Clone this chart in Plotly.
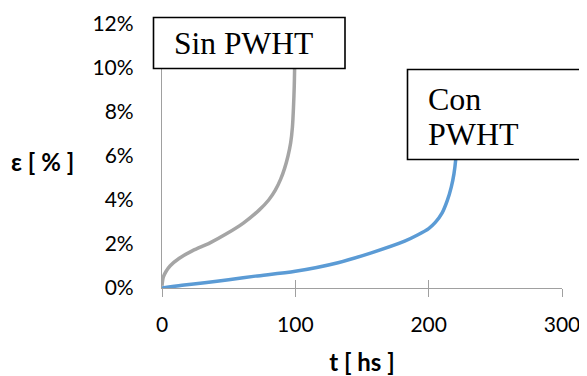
import plotly.graph_objects as go

# Data
sin_t = [0, 1, 3, 6, 13, 23, 36, 48, 61, 73, 80, 85, 89, 92, 94.5, 96.5, 97.8, 98.6, 99.2, 99.6]
sin_e = [0.1, 0.5, 0.75, 1.0, 1.35, 1.7, 2.05, 2.45, 2.95, 3.55, 4.0, 4.45, 4.95, 5.45, 6.0, 6.6, 7.3, 8.2, 9.2, 10.5]

con_t = [0, 15, 32, 50, 70, 100, 132, 157, 182, 192, 200, 205, 210, 214, 217, 219, 220.3, 221]
con_e = [0.0, 0.12, 0.24, 0.38, 0.54, 0.76, 1.15, 1.6, 2.13, 2.42, 2.7, 2.98, 3.4, 3.98, 4.6, 5.2, 5.85, 6.5]

x_ticks = [0, 100, 200, 300]
y_ticks = [0, 2, 4, 6, 8, 10, 12]
y_labels = ["0%", "2%", "4%", "6%", "8%", "10%", "12%"]

AX = "#A0A0A0"
SANS = "Lato, Open Sans, sans-serif"
TICKFONT = dict(family=SANS, size=21, color="#000000")

OFF = 8  # page body margin
L, T, W, H = 162.0 - OFF, 24.0 - OFF, 400.0, 264.0

fig = go.Figure()
fig.add_trace(go.Scatter(x=sin_t, y=sin_e, mode="lines", name="Sin PWHT",
                         line=dict(color="#A5A5A5", width=3.5, shape="spline", smoothing=0.8)))
fig.add_trace(go.Scatter(x=con_t, y=con_e, mode="lines", name="Con PWHT",
                         line=dict(color="#5B9BD5", width=3.5, shape="spline", smoothing=0.8)))
# invisible trace for secondary x axis (upper half of the cross tick marks)
fig.add_trace(go.Scatter(x=[0], y=[0], xaxis="x2", mode="markers",
                         marker=dict(opacity=0), showlegend=False, hoverinfo="skip"))

fig.update_layout(
    width=587 - OFF, height=376 - OFF,
    margin=dict(l=L, r=587 - OFF - L - W, t=T, b=376 - OFF - T - H, autoexpand=False),
    paper_bgcolor="white", plot_bgcolor="white",
    showlegend=False,
    xaxis=dict(range=[0, 300], tickvals=x_ticks, ticktext=[str(v) for v in x_ticks],
               showgrid=False, zeroline=False, showline=True, linecolor=AX, linewidth=1.3,
               ticks="outside", ticklen=8, tickcolor=AX, tickwidth=1.3,
               tickfont=TICKFONT, ticklabelstandoff=10,
               title=dict(text="<b>t [ hs ]</b>", font=dict(family=SANS, size=24, color="#000"),
                          standoff=27)),
    xaxis2=dict(range=[0, 300], overlaying="x", anchor="y", side="bottom", tickvals=x_ticks,
                showticklabels=False, showgrid=False, zeroline=False, showline=False,
                ticks="inside", ticklen=8, tickcolor=AX, tickwidth=1.3),
    yaxis=dict(range=[0, 12], tickvals=y_ticks, ticktext=y_labels,
               showgrid=False, zeroline=False, showline=True, linecolor=AX, linewidth=1.3,
               ticks="", tickfont=TICKFONT, ticklabelstandoff=23),
)

def px(x):  # reference pixel x -> paper
    return (x - OFF - L) / W
def py(y):  # reference pixel y -> paper
    return (T + H - (y - OFF)) / H

fig.add_shape(type="rect", xref="paper", yref="paper",
              x0=px(153.5), x1=px(345), y0=py(68.5), y1=py(17.5),
              line=dict(color="black", width=1.6), fillcolor="white", layer="above")
fig.add_shape(type="rect", xref="paper", yref="paper",
              x0=px(407.5), x1=px(586.2), y0=py(159.5), y1=py(69.5),
              line=dict(color="black", width=1.6), fillcolor="white", layer="above")

SERIF = "Liberation Serif, Times New Roman, serif"
fig.add_annotation(xref="paper", yref="paper", x=px(172), y=py(43), xanchor="left", yanchor="middle",
                   text="Sin PWHT", showarrow=False, font=dict(family=SERIF, size=31.5, color="black"))
fig.add_annotation(xref="paper", yref="paper", x=px(426), y=py(99), xanchor="left", yanchor="middle",
                   text="Con", showarrow=False, font=dict(family=SERIF, size=32, color="black"))
fig.add_annotation(xref="paper", yref="paper", x=px(426), y=py(134), xanchor="left", yanchor="middle",
                   text="PWHT", showarrow=False, font=dict(family=SERIF, size=32, color="black"))
fig.add_annotation(xref="paper", yref="paper", x=px(42.5), y=py(161), xanchor="center", yanchor="middle",
                   text="<b>ε [ % ]</b>", showarrow=False,
                   font=dict(family=SANS, size=24, color="#000"))

fig.write_html("out.html")
